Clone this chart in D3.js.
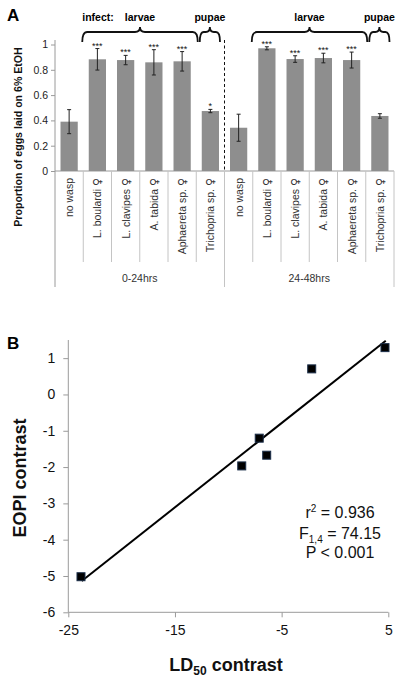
<!DOCTYPE html>
<html><head><meta charset="utf-8">
<script src="https://cdn.jsdelivr.net/npm/d3@7"></script>
<style>
html,body{margin:0;padding:0;background:#fff;}
svg{display:block;font-family:"Liberation Sans",Arial,sans-serif;}
</style></head>
<body><svg id="c" width="400" height="682"></svg>
<script>
// ---- Panel A data ----
const groups = ["0-24hrs", "24-48hrs"];
const treatments = ["no wasp", "L. boulardi \u2640", "L. clavipes \u2640", "A. tabida \u2640", "Aphaereta sp. \u2640", "Trichopria sp. \u2640"];
const means0 = [0.39, 0.883, 0.877, 0.859, 0.867, 0.474];
const errs0  = [0.095, 0.085, 0.037, 0.10, 0.077, 0.013];
const stars0 = ["", "***", "***", "***", "***", "*"];
const means1 = [0.342, 0.97, 0.885, 0.893, 0.877, 0.435];
const errs1  = [0.107, 0.012, 0.026, 0.038, 0.063, 0.018];
const stars1 = ["", "***", "***", "***", "***", ""];
const yTicksA = [0, 0.2, 0.4, 0.6, 0.8, 1];
const yTickLabelsA = ["0", "0.2", "0.4", "0.6", "0.8", "1"];

// ---- Panel B data ----
const ld50 = [-23.81, -8.74, -7.1, -6.4, -2.18, 4.69];
const eopi = [-5.02, -1.968, -1.204, -1.673, 0.705, 1.29];
const xTicksB = [-25, -15, -5, 5];
const yTicksB = [1, 0, -1, -2, -3, -4, -5, -6];

const svg = d3.select("#c");
const rows = [];
groups.forEach((g, gi) => {
  const m = gi === 0 ? means0 : means1, e = gi === 0 ? errs0 : errs1, s = gi === 0 ? stars0 : stars1;
  treatments.forEach((t, i) => rows.push({key: g + "|" + t, group: g, gi, label: t, mean: m[i], err: e[i], star: s[i], idx: i}));
});

// ===== Panel A =====
const xA = d3.scaleBand().domain(rows.map(d => d.key)).range([55, 394]).paddingInner(0.39).paddingOuter(0.195);
const xOuter = d3.scaleBand().domain(rows.map(d => d.key)).range([55, 394]).padding(0);
const yA = d3.scaleLinear().domain([0, 1]).range([171, 44.5]);
const gA = svg.append("g");

gA.append("text").attr("x", 7).attr("y", 21).attr("font-size", 17).attr("font-weight", "bold").text("A");

// y axis
gA.append("line").attr("x1", 55).attr("x2", 55).attr("y1", 40).attr("y2", 287).attr("stroke", "#9a9a9a");
const yAxisA = d3.axisLeft(yA).tickValues(yTicksA).tickFormat((d, i) => yTickLabelsA[i]).tickSize(4).tickPadding(3);
const ya = gA.append("g").attr("transform", "translate(55,0)").call(yAxisA);
ya.select(".domain").remove();
ya.selectAll(".tick line").attr("stroke", "#9a9a9a");
ya.selectAll(".tick text").attr("font-size", 10.5).attr("fill", "#222").attr("font-family", "Liberation Sans, Arial, sans-serif");

gA.append("text").attr("transform", "translate(22,137) rotate(-90)").attr("text-anchor", "middle")
  .attr("font-size", 10.6).attr("font-weight", "bold").attr("fill", "#111").text("Proportion of eggs laid on 6% EtOH");

// x base line
gA.append("line").attr("x1", 55).attr("x2", 394).attr("y1", yA(0)).attr("y2", yA(0)).attr("stroke", "#9a9a9a");
// category separators
rows.forEach((d, i) => {
  const x0 = xOuter(d.key);
  const isGroupEdge = d.idx === 0;
  if (i > 0) gA.append("line").attr("x1", x0).attr("x2", x0).attr("y1", yA(0)).attr("y2", isGroupEdge ? 287 : 262).attr("stroke", "#c4c4c4");
});
gA.append("line").attr("x1", 394).attr("x2", 394).attr("y1", yA(0)).attr("y2", 287).attr("stroke", "#c4c4c4");

// bars
gA.selectAll(".bar").data(rows).enter().append("rect")
  .attr("x", d => xA(d.key)).attr("width", xA.bandwidth())
  .attr("y", d => yA(d.mean)).attr("height", d => yA(0) - yA(d.mean)).attr("fill", "#8e8e8e");
// error bars
const eb = gA.selectAll(".eb").data(rows).enter().append("g").attr("stroke", "#222").attr("stroke-width", 1);
eb.append("line").attr("x1", d => xA(d.key) + xA.bandwidth() / 2).attr("x2", d => xA(d.key) + xA.bandwidth() / 2)
  .attr("y1", d => yA(d.mean + d.err)).attr("y2", d => yA(d.mean - d.err));
eb.append("line").attr("x1", d => xA(d.key) + xA.bandwidth() / 2 - 2).attr("x2", d => xA(d.key) + xA.bandwidth() / 2 + 2)
  .attr("y1", d => yA(d.mean + d.err)).attr("y2", d => yA(d.mean + d.err));
eb.append("line").attr("x1", d => xA(d.key) + xA.bandwidth() / 2 - 2).attr("x2", d => xA(d.key) + xA.bandwidth() / 2 + 2)
  .attr("y1", d => yA(d.mean - d.err)).attr("y2", d => yA(d.mean - d.err));
// stars
gA.selectAll(".st").data(rows.filter(d => d.star)).enter().append("text")
  .attr("x", d => xA(d.key) + xA.bandwidth() / 2).attr("y", d => yA(d.mean + d.err))
  .attr("text-anchor", "middle").attr("font-size", 9).attr("fill", "#111").text(d => d.star);

// dashed separator
gA.append("line").attr("x1", xOuter(rows[6].key)).attr("x2", xOuter(rows[6].key)).attr("y1", 40).attr("y2", yA(0))
  .attr("stroke", "#111").attr("stroke-dasharray", "3,2.5").attr("stroke-width", 1);

// category labels
const cl = gA.selectAll(".cl").data(rows).enter().append("text")
  .attr("transform", d => `translate(${xOuter(d.key) + xOuter.bandwidth() / 2 + 4},178) rotate(-90)`)
  .attr("text-anchor", "end").attr("font-size", 10.5).attr("fill", "#333");
cl.each(function(d) {
  const t = d3.select(this);
  if (d.label.endsWith("\u2640")) {
    t.append("tspan").text(d.label.slice(0, -1));
    t.append("tspan").attr("font-family", "DejaVu Sans").attr("font-size", 11).text("\u2640");
  } else t.text(d.label);
});
// group labels
groups.forEach((g, gi) => {
  const keys = rows.filter(d => d.gi === gi);
  const cx = (xOuter(keys[0].key) + xOuter(keys[keys.length - 1].key) + xOuter.bandwidth()) / 2;
  gA.append("text").attr("x", cx).attr("y", 282).attr("text-anchor", "middle").attr("font-size", 10.5).attr("fill", "#333").text(g);
});

// braces
function brace(x1, x2, yTop) {
  const mid = (x1 + x2) / 2, r = Math.min(5, (x2 - x1) / 5);
  return `M${x1},${yTop + 10} Q${x1},${yTop} ${x1 + r},${yTop} L${mid - r},${yTop} Q${mid},${yTop} ${mid},${yTop - 5} Q${mid},${yTop} ${mid + r},${yTop} L${x2 - r},${yTop} Q${x2},${yTop} ${x2},${yTop + 10}`;
}
groups.forEach((g, gi) => {
  const k = rows.filter(d => d.gi === gi);
  const lx1 = xOuter(k[1].key) - 1, lx2 = xOuter(k[4].key) + xOuter.bandwidth() + 1.5;
  const px1 = xOuter(k[5].key) + 3.5, px2 = xOuter(k[5].key) + xOuter.bandwidth() - 4.5;
  gA.append("path").attr("d", brace(lx1, lx2, 32)).attr("fill", "none").attr("stroke", "#111").attr("stroke-width", 1.8);
  gA.append("path").attr("d", brace(px1, px2, 32)).attr("fill", "none").attr("stroke", "#111").attr("stroke-width", 1.8);
  gA.append("text").attr("x", (lx1 + lx2) / 2).attr("y", 21).attr("text-anchor", "middle").attr("font-size", 10.5).attr("font-weight", "bold").text("larvae");
  gA.append("text").attr("x", (px1 + px2) / 2).attr("y", 21).attr("text-anchor", "middle").attr("font-size", 10.5).attr("font-weight", "bold").text("pupae");
  if (gi === 0) gA.append("text").attr("x", lx1).attr("y", 21).attr("font-size", 10.5).attr("font-weight", "bold").text("infect:");
});

// ===== Panel B =====
const xB = d3.scaleLinear().domain([-25, 5]).range([68.3, 388.3]);
const yB = d3.scaleLinear().domain([-6, 1.5]).range([612.3, 340]);
const gB = svg.append("g");
gB.append("text").attr("x", 7).attr("y", 349).attr("font-size", 17).attr("font-weight", "bold").text("B");

const yAxisB = d3.axisLeft(yB).tickValues(yTicksB).tickFormat(d3.format("d")).tickSize(5).tickPadding(8);
const yb = gB.append("g").attr("transform", `translate(${xB(-25)},0)`).call(yAxisB);
yb.select(".domain").attr("stroke", "#9a9a9a").attr("d", `M0,${yB(1.5)}V${yB(-6)}`);
yb.selectAll(".tick line").attr("stroke", "#9a9a9a");
yb.selectAll(".tick text").attr("font-size", 14).attr("fill", "#111").attr("font-family", "Liberation Sans, Arial, sans-serif").text(d => d < 0 ? "-" + Math.abs(d) : d);

const xAxisB = d3.axisBottom(xB).tickValues(xTicksB).tickSize(5).tickPadding(8);
const xb = gB.append("g").attr("transform", `translate(0,${yB(-6)})`).call(xAxisB);
xb.select(".domain").attr("stroke", "#9a9a9a").attr("d", `M${xB(-25)},0H${xB(5)}`);
xb.selectAll(".tick line").attr("stroke", "#9a9a9a");
xb.selectAll(".tick text").attr("font-size", 14).attr("fill", "#111").attr("font-family", "Liberation Sans, Arial, sans-serif").text(d => d < 0 ? "-" + Math.abs(d) : d);

// regression line
const mx = d3.mean(ld50), my = d3.mean(eopi);
const slope = d3.sum(ld50, (x, i) => (x - mx) * (eopi[i] - my)) / d3.sum(ld50, x => (x - mx) * (x - mx));
const icpt = my - slope * mx;
const [xmin, xmax] = d3.extent(ld50);
gB.append("line").attr("x1", xB(xmin + 0.07)).attr("y1", yB(icpt + slope * (xmin + 0.07)))
  .attr("x2", xB(xmax + 0.07)).attr("y2", yB(icpt + slope * (xmax + 0.07))).attr("stroke", "#000").attr("stroke-width", 2);

// points
gB.selectAll(".pt").data(ld50).enter().append("rect")
  .attr("x", (d) => xB(d) - 4).attr("y", (d, i) => yB(eopi[i]) - 4).attr("width", 8).attr("height", 8)
  .attr("fill", "#000").attr("stroke", "#1c2f4a").attr("stroke-width", 1);

// stats text
const st = gB.append("g").attr("font-size", 16).attr("fill", "#111").attr("text-anchor", "middle");
const t1 = st.append("text").attr("x", 340).attr("y", 518);
t1.append("tspan").text("r");
t1.append("tspan").attr("font-size", 10).attr("dy", -6).text("2");
t1.append("tspan").attr("dy", 6).text(" = 0.936");
const t2 = st.append("text").attr("x", 340).attr("y", 539);
t2.append("tspan").text("F");
t2.append("tspan").attr("font-size", 10).attr("dy", 4).text("1,4");
t2.append("tspan").attr("dy", -4).text(" = 74.15");
st.append("text").attr("x", 340).attr("y", 558).text("P < 0.001");

// axis titles
const xt = gB.append("text").attr("x", 226).attr("y", 671).attr("text-anchor", "middle").attr("font-size", 18).attr("font-weight", "bold").attr("fill", "#111");
xt.append("tspan").text("LD");
xt.append("tspan").attr("font-size", 12).attr("dy", 4).text("50");
xt.append("tspan").attr("dy", -4).text(" contrast");
gB.append("text").attr("transform", "translate(26,478) rotate(-90)").attr("text-anchor", "middle")
  .attr("font-size", 18).attr("font-weight", "bold").attr("fill", "#111").text("EOPI contrast");
</script></body></html>
